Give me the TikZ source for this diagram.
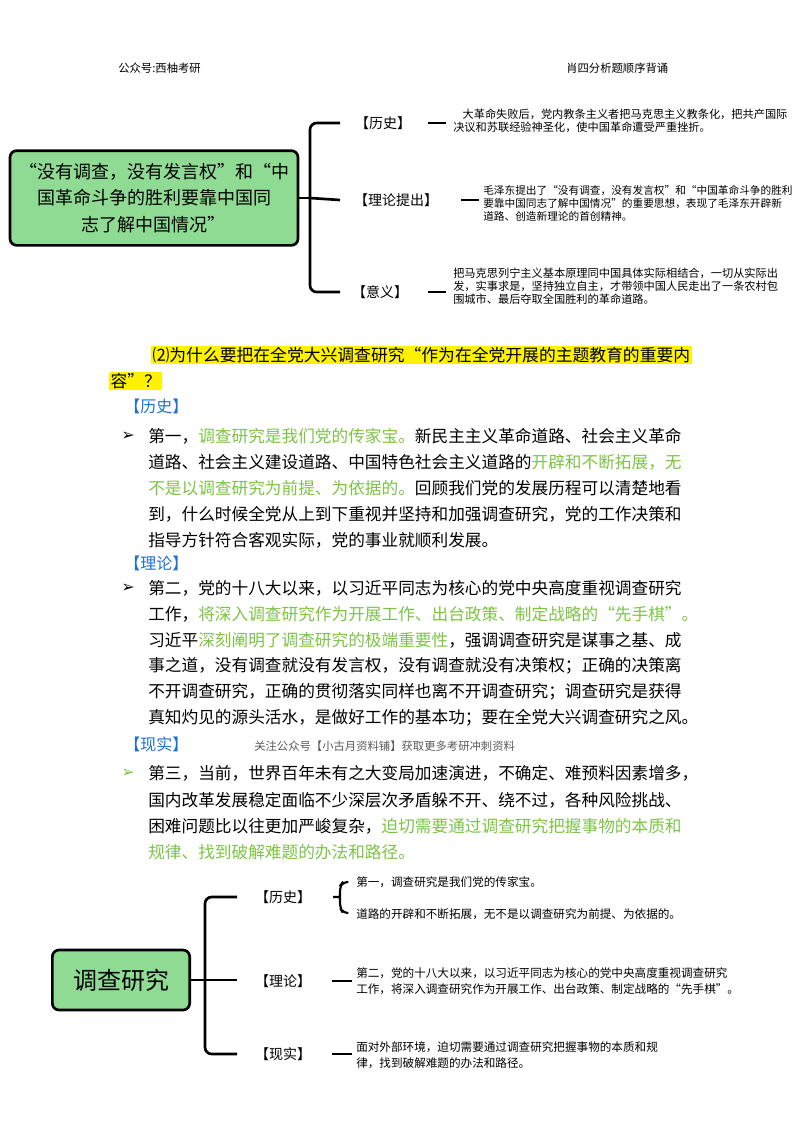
\documentclass[tikz,border=0pt]{standalone}
\usepackage{fontspec}
\setmainfont{Noto Sans CJK SC}
\newfontfamily\dv{DejaVu Sans}[BoldFont={DejaVu Sans Bold}]
\definecolor{tgreen}{HTML}{7CC444}
\definecolor{boxgreen}{HTML}{8FDB93}
\definecolor{lblue}{HTML}{1F6FD6}
\newcommand{\gr}[1]{\textcolor{tgreen}{#1}}
\newcommand{\jline}[1]{{\XeTeXinterchartokenstate=1
 \XeTeXinterchartoks 1 1={\hskip0pt plus 1fil}\XeTeXinterchartoks 1 3={\hskip0pt plus 1fil}%
 \XeTeXinterchartoks 3 1={\hskip0pt plus 1fil}\XeTeXinterchartoks 1 2={\hskip0pt plus 1fil}%
 \XeTeXinterchartoks 2 1={\hskip0pt plus 1fil}\XeTeXinterchartoks 3 3={\hskip0pt plus 1fil}%
 \XeTeXinterchartoks 3 2={\hskip0pt plus 1fil}\XeTeXinterchartoks 0 1={\hskip0pt plus 1fil}%
 \XeTeXinterchartoks 1 0={\hskip0pt plus 1fil}\XeTeXinterchartoks 0 3={\hskip0pt plus 1fil}%
 \hbox to 406pt{#1}}}
\tikzset{
 body/.style={anchor=west,inner sep=0pt,font=\fontsize{12.5}{14}\selectfont},
 small/.style={anchor=west,inner sep=0pt,font=\fontsize{8.4}{9.7}\selectfont,align=left},
 lbl/.style={anchor=west,inner sep=0pt,font=\fontsize{12}{14}\selectfont,text=lblue},
 mlbl/.style={inner sep=0pt,font=\fontsize{10.5}{12}\selectfont},
 gbox/.style={draw=black,line width=2pt,rounded corners=5pt,fill=boxgreen,align=center},
 br/.style={line width=2pt,rounded corners=5pt},
 dsh/.style={line width=2pt},
 bul/.style={anchor=west,inner sep=0pt,font=\dv\bfseries\fontsize{12}{12}\selectfont}
}
\begin{document}
\begin{tikzpicture}[x=0.75pt,y=-0.75pt]
\useasboundingbox (0,0) rectangle (800,1132);
% header
\node[anchor=west,inner sep=0pt,font=\fontsize{8.5}{10}\selectfont] (h1) at (118,68) {公众号:西柚考研};
\node[anchor=west,inner sep=0pt,font=\fontsize{8.5}{10}\selectfont] (h2) at (566,68) {肖四分析题顺序背诵};
% top mind map
\node[gbox,minimum width=216pt,minimum height=71pt,font=\fontsize{13.5}{20}\selectfont] (tb) at (154,198)
 {“没有调查，没有发言权”和“中\\国革命斗争的胜利要靠中国同\\志了解中国情况”};
\coordinate (tj) at (310,198);
\node[mlbl] (t1) at (383,123) {【历史】};
\node[mlbl] (t2) at (396,200) {【理论提出】};
\node[mlbl] (t3) at (380,292) {【意义】};
\draw[br] (tb.east) -- (tj);
\draw[br] (340,123) -- (310,123) -- (310,292) -- (340,292);
\draw[br] (tj) -- (340,200);
\coordinate (d1a) at (428,123); \coordinate (d1b) at (446,123);
\draw[dsh] (d1a) -- (d1b);
\coordinate (d2a) at (461,200); \coordinate (d2b) at (479,200);
\draw[dsh] (d2a) -- (d2b);
\coordinate (d3a) at (428,292); \coordinate (d3b) at (446,292);
\draw[dsh] (d3a) -- (d3b);
\node[small] (tx1) at (453,121) {\hspace{7pt}大革命失败后，党内教条主义者把马克思主义教条化，把共产国际\\决议和苏联经验神圣化，使中国革命遭受严重挫折。};
\node[small,font=\fontsize{8}{9.7}\selectfont] (tx2) at (483,203) {毛泽东提出了“没有调查，没有发言权”和“中国革命斗争的胜利\\要靠中国同志了解中国情况”的重要思想，表现了毛泽东开辟新\\道路、创造新理论的首创精神。};
\node[small] (tx3) at (453,286) {把马克思列宁主义基本原理同中国具体实际相结合，一切从实际出\\发，实事求是，坚持独立自主，才带领中国人民走出了一条农村包\\围城市、最后夺取全国胜利的革命道路。};
% question
\node[anchor=west,inner sep=1pt,fill=yellow,font=\fontsize{12.6}{14}\selectfont] (q1) at (151,355) {⑵为什么要把在全党大兴调查研究“作为在全党开展的主题教育的重要内};
\node[anchor=west,inner sep=1pt,fill=yellow,font=\fontsize{12.6}{14}\selectfont] (q2) at (109,381) {容”？};
% history
\node[lbl] (l1) at (124,406) {【历史】};
\node[bul] (b1) at (121,436) {➢};
\node[body] (p11) at (148,436) {\jline{第一，\gr{调查研究是我们党的传家宝。}新民主主义革命道路、社会主义革命}};
\node[body] (p12) at (148,462) {\jline{道路、社会主义建设道路、中国特色社会主义道路的\gr{开辟和不断拓展，无}}};
\node[body] (p13) at (148,488) {\jline{\gr{不是以调查研究为前提、为依据的。}回顾我们党的发展历程可以清楚地看}};
\node[body] (p14) at (148,514) {\jline{到，什么时候全党从上到下重视并坚持和加强调查研究，党的工作决策和}};
\node[body] (p15) at (148,540) {指导方针符合客观实际，党的事业就顺利发展。};
% theory
\node[lbl] (l2) at (124,563) {【理论】};
\node[bul] (b2) at (121,588) {➢};
\node[body] (p21) at (148,588) {\jline{第二，党的十八大以来，以习近平同志为核心的党中央高度重视调查研究}};
\node[body] (p22) at (148,614) {\jline{工作，\gr{将深入调查研究作为开展工作、出台政策、制定战略的“先手棋”。}}};
\node[body] (p23) at (148,640) {\jline{习近平\gr{深刻阐明了调查研究的极端重要性}，强调调查研究是谋事之基、成}};
\node[body] (p24) at (148,666) {\jline{事之道，没有调查就没有发言权，没有调查就没有决策权；正确的决策离}};
\node[body] (p25) at (148,692) {\jline{不开调查研究，正确的贯彻落实同样也离不开调查研究；调查研究是获得}};
\node[body] (p26) at (148,718) {\jline{真知灼见的源头活水，是做好工作的基本功；要在全党大兴调查研究之风。}};
% reality
\node[lbl] (l3) at (124,744) {【现实】};
\node[anchor=west,inner sep=0pt,font=\fontsize{8.5}{10}\selectfont,text=black!65] (wm) at (254,746) {关注公众号【小古月资料铺】获取更多考研冲刺资料};
\node[bul,text=tgreen] (b3) at (121,773) {➢};
\node[body] (p31) at (148,773) {\jline{第三，当前，世界百年未有之大变局加速演进，不确定、难预料因素增多，}};
\node[body] (p32) at (148,800) {\jline{国内改革发展稳定面临不少深层次矛盾躲不开、绕不过，各种风险挑战、}};
\node[body] (p33) at (148,826) {\jline{困难问题比以往更加严峻复杂，\gr{迫切需要通过调查研究把握事物的本质和}}};
\node[body] (p34) at (148,852) {\gr{规律、找到破解难题的办法和路径。}};
% bottom mind map
\node[gbox,minimum width=103pt,minimum height=45pt,font=\fontsize{18}{20}\selectfont] (bb) at (121,980) {调查研究};
\coordinate (bj) at (205,980);
\draw[br] (bb.east) -- (bj) -- (237,980);
\draw[br] (237,897) -- (205,897) -- (205,1054) -- (237,1054);
\node[mlbl] (m1) at (283,897) {【历史】};
\node[mlbl] (m2) at (283,981) {【理论】};
\node[mlbl] (m3) at (283,1054) {【现实】};
\coordinate (e1) at (333,897);
\draw[line width=1.6pt,rounded corners=4pt] (e1) -- (340,897) (348,882) -- (343,882) -- (340,886) -- (340,908) -- (343,913) -- (348,913);
\node[small,font=\fontsize{8.7}{10}\selectfont] (bx1a) at (356,882) {第一，调查研究是我们党的传家宝。};
\node[small,font=\fontsize{8.7}{10}\selectfont] (bx1b) at (356,914) {道路的开辟和不断拓展，无不是以调查研究为前提、为依据的。};
\coordinate (e2a) at (332,981); \coordinate (e2b) at (352,981);
\draw[dsh] (e2a) -- (e2b);
\coordinate (e3a) at (332,1054); \coordinate (e3b) at (352,1054);
\draw[dsh] (e3a) -- (e3b);
\node[small,font=\fontsize{8.7}{12}\selectfont] (bx2) at (356,981) {第二，党的十八大以来，以习近平同志为核心的党中央高度重视调查研究\\工作，将深入调查研究作为开展工作、出台政策、制定战略的“先手棋”。};
\node[small,font=\fontsize{8.7}{12}\selectfont] (bx3) at (356,1055) {面对外部环境，迫切需要通过调查研究把握事物的本质和规\\律，找到破解难题的办法和路径。};
\end{tikzpicture}
\end{document}
